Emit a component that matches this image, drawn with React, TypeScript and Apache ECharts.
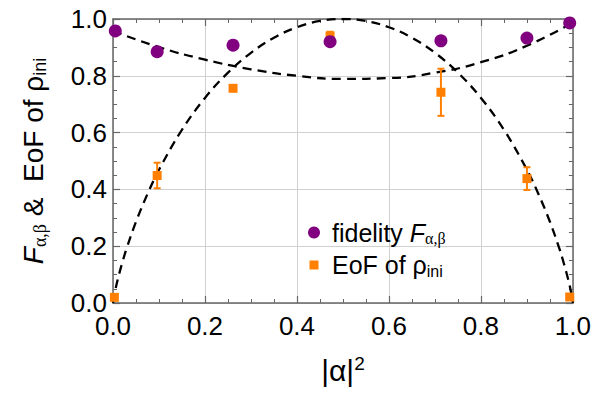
import React, { useEffect, useRef } from 'react';
import * as echarts from 'echarts';

// measured points
const pointX = [0.005, 0.096, 0.261, 0.472, 0.713, 0.9, 0.993];
const fidelityY = [0.958, 0.885, 0.908, 0.92, 0.923, 0.933, 0.986];
const fidelityErr = [0.004, 0.015, 0.004, 0.008, 0.004, 0.004, 0.004];
const eofX = [0.003, 0.096, 0.261, 0.472, 0.713, 0.9, 0.993];
const eofY = [0.02, 0.449, 0.756, 0.94, 0.742, 0.438, 0.021];
const eofErr = [0.004, 0.045, 0.004, 0.015, 0.083, 0.04, 0.004];

// theory curves
const eofCurveX = [0, 0.005, 0.01, 0.02, 0.03, 0.05, 0.075, 0.1, 0.15, 0.2, 0.25, 0.3, 0.35, 0.4, 0.45, 0.5, 0.55, 0.6, 0.65, 0.7, 0.75, 0.8, 0.85, 0.9, 0.925, 0.95, 0.97, 0.98, 0.99, 0.995, 1];
const eofCurveY = [0, 0.045, 0.081, 0.141, 0.194, 0.286, 0.384, 0.469, 0.61, 0.722, 0.811, 0.881, 0.934, 0.971, 0.993, 1, 0.993, 0.971, 0.934, 0.881, 0.811, 0.722, 0.61, 0.469, 0.384, 0.286, 0.194, 0.141, 0.081, 0.045, 0];
const fidCurveX = [0, 0.1, 0.2, 0.3, 0.4, 0.5, 0.6, 0.7, 0.8, 0.9, 1];
const fidCurveY = [0.958, 0.901, 0.857, 0.823, 0.8, 0.789, 0.792, 0.811, 0.848, 0.906, 0.988];

const xTickLabels = ['0.0', '0.2', '0.4', '0.6', '0.8', '1.0'];
const yTickLabels = ['0.0', '0.2', '0.4', '0.6', '0.8', '1.0'];

const PURPLE = '#800080';
const ORANGE = '#FF8000';
const AXIS = '#666666';
const FONT = '"Liberation Sans", Arial, sans-serif';
const SERIF = '"Liberation Serif", "Times New Roman", serif';

const richBase = {
  a: { fontSize: 25, fontFamily: FONT, color: '#000', lineHeight: 28 },
  i: { fontSize: 25, fontFamily: FONT, fontStyle: 'italic', color: '#000', lineHeight: 28 },
  s: { fontSize: 16, fontFamily: SERIF, color: '#000', lineHeight: 12, verticalAlign: 'bottom' },
  s2: { fontSize: 16, fontFamily: FONT, color: '#000', lineHeight: 12, verticalAlign: 'bottom' },
  sup: { fontSize: 17, fontFamily: FONT, color: '#000', lineHeight: 14, verticalAlign: 'top' },
};

const richTitle = {
  a: { fontSize: 28, fontFamily: FONT, color: '#000', lineHeight: 31 },
  i: { fontSize: 28, fontFamily: FONT, fontStyle: 'italic', color: '#000', lineHeight: 31 },
  s: { fontSize: 18, fontFamily: SERIF, color: '#000', lineHeight: 13, verticalAlign: 'bottom' },
  s2: { fontSize: 18, fontFamily: FONT, color: '#000', lineHeight: 13, verticalAlign: 'bottom' },
  sup: { fontSize: 19, fontFamily: FONT, color: '#000', lineHeight: 15, verticalAlign: 'top' },
  x: { fontSize: 30, fontFamily: FONT, color: '#000', lineHeight: 33 },
};

function errorBarSeries(name: string, xs: number[], ys: number[], es: number[], color: string) {
  return {
    type: 'custom',
    name: name + '-err',
    xAxisIndex: 0,
    yAxisIndex: 0,
    z: 3,
    data: xs.map((x, k) => [x, ys[k], es[k]]),
    encode: { x: 0, y: 1 },
    renderItem: (_params: any, api: any) => {
      const x = api.value(0);
      const y = api.value(1);
      const e = api.value(2);
      const top = api.coord([x, y + e]);
      const bot = api.coord([x, y - e]);
      const hw = 3.5;
      const st = { stroke: color, lineWidth: 2 };
      return {
        type: 'group',
        children: [
          { type: 'line', shape: { x1: top[0], y1: top[1], x2: bot[0], y2: bot[1] }, style: st },
          { type: 'line', shape: { x1: top[0] - hw, y1: top[1], x2: top[0] + hw, y2: top[1] }, style: st },
          { type: 'line', shape: { x1: bot[0] - hw, y1: bot[1], x2: bot[0] + hw, y2: bot[1] }, style: st },
        ],
      };
    },
  };
}

function makeAxis(position: string, showLabels: boolean, labels: string[], extra: any) {
  return {
    type: 'value',
    min: 0,
    max: 1,
    interval: 0.2,
    position,
    axisLine: { show: true, onZero: false, lineStyle: { color: AXIS, width: 1.5 } },
    axisTick: { show: true, inside: true, length: 7, lineStyle: { color: AXIS, width: 1.2 } },
    minorTick: { show: true, splitNumber: 4, length: 4, lineStyle: { color: AXIS, width: 1 } },
    splitLine: { show: showLabels, lineStyle: { color: '#d0d0d0', width: 1 } },
    axisLabel: {
      show: showLabels,
      fontSize: 26,
      fontFamily: FONT,
      color: '#000',
      formatter: (v: number) => labels[Math.round(v * 5)] ?? '',
    },
    ...extra,
  };
}

export default function App() {
  const ref = useRef<HTMLDivElement>(null);
  useEffect(() => {
    const chart = echarts.init(ref.current!, null, { renderer: 'svg' });
    const option: any = {
      animation: false,
      backgroundColor: '#ffffff',
      grid: { left: 113, right: 21, top: 19, bottom: 92, containLabel: false },
      xAxis: [
        makeAxis('bottom', true, xTickLabels, {
          axisLabel: {
            show: true, fontSize: 26, fontFamily: FONT, color: '#000', margin: 10,
            formatter: (v: number) => xTickLabels[Math.round(v * 5)] ?? '',
          },
          name: '{x||α|}{sup|2}',
          nameLocation: 'middle',
          nameGap: 51,
          nameTextStyle: { rich: richTitle },
        }),
        makeAxis('top', false, xTickLabels, {}),
      ],
      yAxis: [
        makeAxis('left', true, yTickLabels, {
          axisLabel: {
            show: true, fontSize: 26, fontFamily: FONT, color: '#000', margin: 6,
            formatter: (v: number) => yTickLabels[Math.round(v * 5)] ?? '',
          },
          name: '{i|F}{s|α,β}{a| &  EoF of ρ}{s2|ini}',
          nameLocation: 'middle',
          nameRotate: 90,
          nameGap: 64,
          nameTextStyle: { rich: richTitle },
        }),
        makeAxis('right', false, yTickLabels, {}),
      ],
      legend: {
        orient: 'vertical',
        left: 308,
        top: 220,
        padding: 0,
        itemGap: 6,
        itemWidth: 26,
        itemHeight: 12,
        data: [
          { name: 'fidelity', icon: 'circle' },
          { name: 'EoF', icon: 'path://M-1.5,-1.5M0,0h9v9h-9zM10.5,10.5' },
        ],
        formatter: (name: string) =>
          name === 'fidelity' ? '{a|fidelity }{i|F}{s|α,β}' : '{a|EoF of ρ}{s2|ini}',
        textStyle: { rich: richBase },
      },
      series: [
        {
          type: 'line',
          name: 'eofCurve',
          data: eofCurveX.map((x, k) => [x, eofCurveY[k]]),
          showSymbol: false,
          smooth: 0.4,
          z: 2,
          lineStyle: { color: '#000', width: 2.3, type: [9, 6] },
        },
        {
          type: 'line',
          name: 'fidCurve',
          data: fidCurveX.map((x, k) => [x, fidCurveY[k]]),
          showSymbol: false,
          smooth: 0.5,
          z: 2,
          lineStyle: { color: '#000', width: 2.3, type: [9, 6] },
        },
        errorBarSeries('EoF', eofX, eofY, eofErr, ORANGE),
        errorBarSeries('fidelity', pointX, fidelityY, fidelityErr, PURPLE),
        {
          type: 'scatter',
          name: 'EoF',
          data: eofX.map((x, k) => [x, eofY[k]]),
          symbol: 'rect',
          symbolSize: 9,
          z: 4,
          itemStyle: { color: ORANGE, opacity: 1 },
        },
        {
          type: 'scatter',
          name: 'fidelity',
          data: pointX.map((x, k) => [x, fidelityY[k]]),
          symbol: 'circle',
          symbolSize: 13,
          z: 5,
          itemStyle: { color: PURPLE, opacity: 1 },
        },
      ],
    };
    chart.setOption(option);
    return () => chart.dispose();
  }, []);
  return (
    <div
      ref={ref}
      style={{ position: 'fixed', left: 0, top: 0, width: 594, height: 395, background: '#fff' }}
    />
  );
}
